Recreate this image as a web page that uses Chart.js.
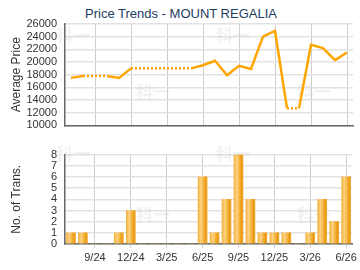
<!DOCTYPE html>
<html lang="en">
<head>
<meta charset="UTF-8">
<script src="https://cdn.jsdelivr.net/npm/chart.js@4.4.1/dist/chart.umd.min.js"></script>
<title>Price Trends</title>
<style>
  body { margin: 0; background: #fff; }
  #wrap { position: relative; width: 360px; height: 270px; overflow: hidden; }
  #title { position: absolute; left: 0; width: 362px; top: 6px; text-align: center;
           font: 13px "Liberation Sans", Arial, sans-serif; color: #1c3d5e; }
  .box { position: absolute; left: 0; width: 360px; }
</style>
</head>
<body>
<div id="wrap">
  <div id="title">Price Trends - MOUNT REGALIA</div>
  <div class="box" style="top:0;height:140px"><canvas id="priceChart" width="360" height="140"></canvas></div>
  <div class="box" style="top:140px;height:130px"><canvas id="transChart" width="360" height="130"></canvas></div>
</div>
<script>
// months from 7/24 to 6/26
const months = ['7/24','8/24','9/24','10/24','11/24','12/24','1/25','2/25','3/25','4/25','5/25','6/25',
                '7/25','8/25','9/25','10/25','11/25','12/25','1/26','2/26','3/26','4/26','5/26','6/26'];
// average price (months without deals carry the previous value, drawn dotted)
const prices = [17500, 17800, 17800, 17800, 17500, 19000, 19000, 19000, 19000, 19000, 19000, 19500,
                20200, 17900, 19400, 18900, 24000, 24900, 12700, 12700, 22700, 22200, 20300, 21500];
// number of transactions
const counts = [1, 1, 0, 0, 1, 3, 0, 0, 0, 0, 0, 6,
                1, 4, 8, 4, 1, 1, 1, 0, 1, 4, 2, 6];
const shownLabels = ['9/24','12/24','3/25','6/25','9/25','12/25','3/26','6/26'];

const FONT = '"Liberation Sans", Arial, sans-serif';
Chart.defaults.font.family = FONT;
Chart.defaults.color = '#333';

// faint watermark text
function watermark(spots) {
  return {
    id: 'watermark',
    beforeDatasetsDraw(chart) {
      const c = chart.ctx;
      c.save();
      c.font = 'bold 17px "Noto Sans CJK SC"';
      c.fillStyle = 'rgba(190,190,190,0.2)';
      c.textBaseline = 'middle';
      spots.forEach(p => c.fillText('科一', p[0], p[1]));
      c.restore();
    }
  };
}

function fixWidth(scale) { scale.width = 65; }

function xGridColor(ctx) {
  return shownLabels.includes(months[ctx.index]) ? '#cfcfcf' : 'rgba(0,0,0,0)';
}

const plainTick = v => String(v);

new Chart(document.getElementById('priceChart'), {
  type: 'line',
  data: {
    labels: months,
    datasets: [{
      data: prices,
      borderColor: '#FFA500',
      borderWidth: 2.5,
      pointRadius: 0,
      tension: 0,
      segment: {
        borderDash: ctx => counts[ctx.p1DataIndex] === 0 ? [2, 2] : undefined
      }
    }]
  },
  options: {
    responsive: false,
    animation: false,
    layout: { padding: { left: 0, right: 7, top: 24, bottom: 0 } },
    plugins: { legend: { display: false }, tooltip: { enabled: false } },
    scales: {
      x: {
        offset: true,
        grid: { offset: false, color: xGridColor, drawTicks: false },
        border: { color: '#666', width: 1.5 },
        ticks: { display: false },
        afterFit: s => { s.height = 10; }
      },
      y: {
        min: 10000, max: 26000,
        ticks: { stepSize: 2000, padding: 8, autoSkip: false, font: { size: 11 }, callback: plainTick },
        grid: { color: '#e2e2e2', lineWidth: 1.5, drawTicks: false },
        border: { color: '#666', width: 1.5 },
        title: { display: true, text: 'Average Price', font: { size: 12 }, color: '#333', padding: { top: 9, bottom: 0 } },
        afterFit: fixWidth
      }
    }
  },
  plugins: [watermark([[56, 36], [216, 36], [136, 92], [297, 92]])]
});

function barFill(context) {
  const chart = context.chart;
  const x = chart.scales.x ? chart.scales.x.getPixelForValue(context.dataIndex) : NaN;
  if (!isFinite(x)) return '#F6BA4A';
  const g = chart.ctx.createLinearGradient(x - 4.5, 0, x + 4.5, 0);
  g.addColorStop(0, '#F2B23C');
  g.addColorStop(0.3, '#FCD283');
  g.addColorStop(0.55, '#F6BA4A');
  g.addColorStop(0.85, '#E99A14');
  g.addColorStop(1, '#F0AA2E');
  return g;
}

new Chart(document.getElementById('transChart'), {
  type: 'bar',
  data: {
    labels: months,
    datasets: [{
      data: counts,
      backgroundColor: barFill,
      borderWidth: 0,
      barThickness: 9
    }]
  },
  options: {
    responsive: false,
    animation: false,
    layout: { padding: { left: 0, right: 7, top: 7, bottom: 0 } },
    plugins: { legend: { display: false }, tooltip: { enabled: false } },
    scales: {
      x: {
        grid: { offset: false, color: xGridColor, tickLength: 4 },
        border: { color: '#666', width: 1.5 },
        ticks: {
          autoSkip: false, maxRotation: 0, padding: 3, font: { size: 11 },
          callback: (v, i) => shownLabels.includes(months[i]) ? months[i] : ''
        },
        afterFit: s => { s.height = 26; }
      },
      y: {
        min: 0, max: 8,
        ticks: { stepSize: 1, padding: 8, autoSkip: false, font: { size: 11 } },
        grid: { color: '#e2e2e2', lineWidth: 1.5, drawTicks: false },
        border: { color: '#666', width: 1.5 },
        title: { display: true, text: 'No. of Trans.', font: { size: 12 }, color: '#333', padding: { top: 9, bottom: 0 } },
        afterFit: fixWidth
      }
    }
  },
  plugins: [watermark([[56, 14], [216, 14], [136, 75], [297, 75]])]
});
</script>
</body>
</html>
